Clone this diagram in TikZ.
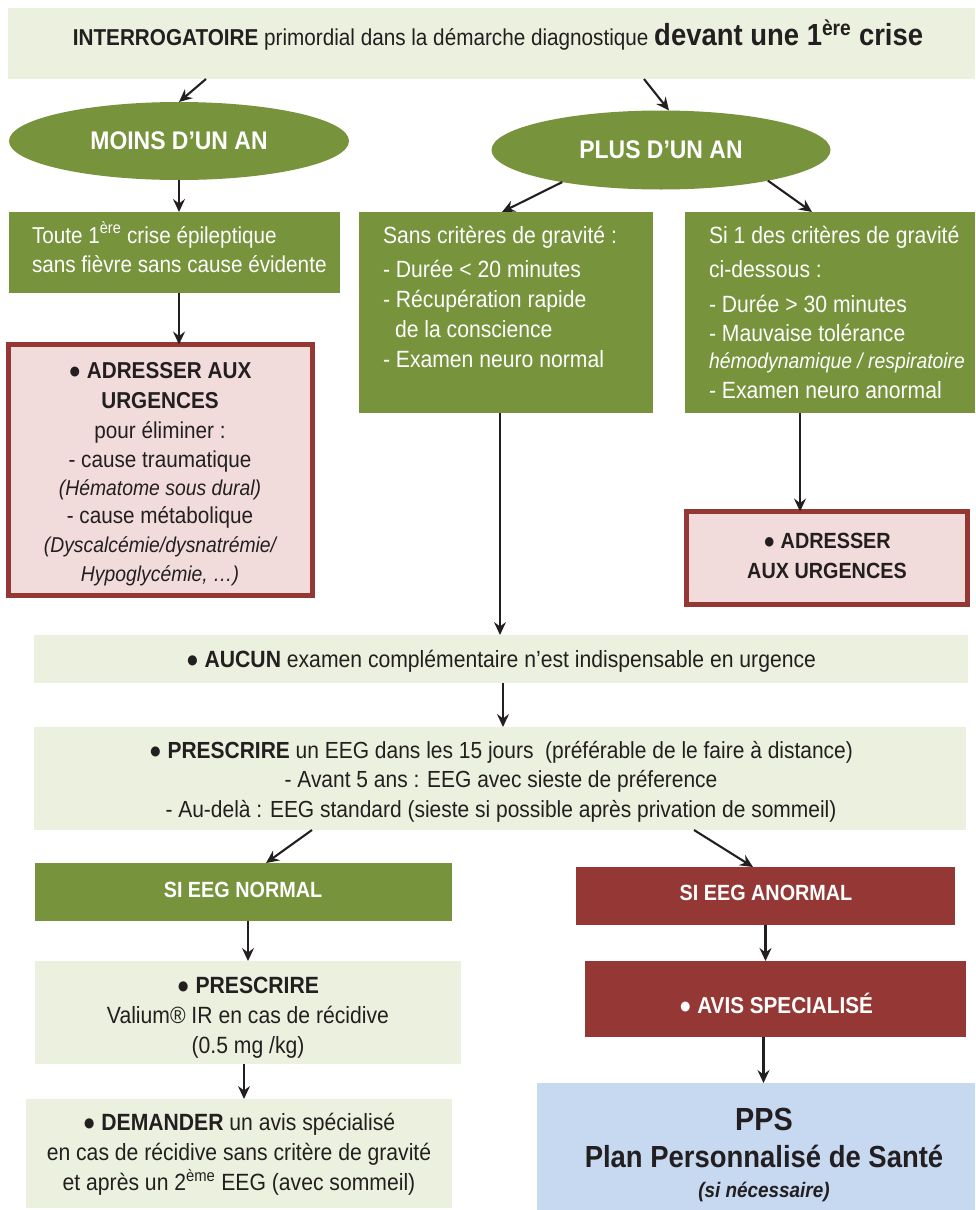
\documentclass[tikz,border=0pt]{standalone}
\usepackage{fontspec}
\setmainfont{Liberation Sans}[FakeStretch=0.9]
\usetikzlibrary{shapes.geometric,arrows.meta}
\definecolor{lgreen}{HTML}{EBF1DE}
\definecolor{dgreen}{HTML}{77933C}
\definecolor{dred}{HTML}{953735}
\definecolor{pinkbg}{HTML}{F2DCDB}
\definecolor{lblue}{HTML}{C6D9F1}
\definecolor{ink}{HTML}{231F20}
\newcommand{\mlines}[2]{\begin{tabular}[t]{@{}#1@{}}#2\end{tabular}}
\begin{document}
\begin{tikzpicture}[x=1pt,y=-1pt,
  every node/.style={inner sep=0pt, outer sep=0pt},
  arr/.style={draw=ink, line width=2.1pt, -{Stealth[length=13pt,width=12pt,inset=4.5pt]}},
  lgbox/.style={rectangle, fill=lgreen},
  dgbox/.style={rectangle, fill=dgreen},
  rdbox/.style={rectangle, fill=dred},
  pkbox/.style={rectangle, fill=pinkbg, draw=dred, line width=5pt},
  blbox/.style={rectangle, fill=lblue},
  oval/.style={ellipse, fill=dgreen, text=white, font=\bfseries\fontsize{25.5}{30}\selectfont},
  wtxt/.style={text=white},
  ktxt/.style={text=ink}]
\useasboundingbox (0,0) rectangle (975,1210);

% boxes
\node[lgbox, minimum width=967pt, minimum height=71pt] (top) at (491.5,43.5) {};
\node[oval, minimum width=340pt, minimum height=78pt] (e1) at (179,141) {MOINS D’UN AN};
\node[oval, minimum width=339pt, minimum height=79pt] (e2) at (661,150) {PLUS D’UN AN};
\node[dgbox, minimum width=331pt, minimum height=81pt] (g1) at (174.5,252.5) {};
\node[dgbox, minimum width=294pt, minimum height=201pt] (g2) at (506,312.5) {};
\node[dgbox, minimum width=290pt, minimum height=201pt] (g3) at (830,312.5) {};
\node[pkbox, minimum width=304pt, minimum height=251pt] (r1) at (160.5,470) {};
\node[pkbox, minimum width=281pt, minimum height=93pt] (r2) at (827,558) {};
\node[lgbox, minimum width=934pt, minimum height=48pt] (aucun) at (501,659) {};
\node[lgbox, minimum width=932pt, minimum height=103pt] (presc) at (500,778.5) {};
\node[dgbox, minimum width=417pt, minimum height=58pt] (norm) at (243.5,892) {};
\node[rdbox, minimum width=379pt, minimum height=58pt] (anorm) at (765.5,896) {};
\node[lgbox, minimum width=426pt, minimum height=103pt] (presc2) at (248,1012.5) {};
\node[rdbox, minimum width=381pt, minimum height=76pt] (avis) at (775.5,999) {};
\node[lgbox, minimum width=426pt, minimum height=109pt] (dem) at (239,1153.5) {};
\node[blbox, minimum width=438pt, minimum height=127pt] (pps) at (756,1146.5) {};

% texts
\node[ktxt, anchor=base] (t-top) at (498,45) {\fontsize{23}{26}\selectfont\textbf{INTERROGATOIRE} primordial dans la démarche diagnostique {\fontsize{30.5}{30}\selectfont\textbf{devant une 1\textsuperscript{ère} crise}}};

\node[wtxt, anchor=base west] (t-g1) at (32,243) {\fontsize{23}{29}\selectfont\mlines{l}{Toute 1\textsuperscript{ère} crise épileptique\\sans fièvre sans cause évidente}};

\node[wtxt, anchor=base west] (t-g2) at (383,243) {\fontsize{23.5}{30}\selectfont\mlines{l}{Sans critères de gravité :\\[4pt]- Durée < 20 minutes\\- Récupération rapide\\\hspace{12pt}de la conscience\\- Examen neuro normal}};

\node[wtxt, anchor=base west] (t-g3) at (709,243) {\fontsize{23.5}{30}\selectfont\mlines{l}{Si 1 des critères de gravité\\[4pt]ci-dessous :\\[5pt]- Durée > 30 minutes\\[-1pt]- Mauvaise tolérance\\[-3pt]{\itshape\fontsize{21.5}{30}\selectfont hémodynamique / respiratoire}\\- Examen neuro anormal}};

\node[ktxt, anchor=base] (t-r1) at (160,378) {\fontsize{23}{29}\selectfont\mlines{c}{\textbf{● ADRESSER AUX}\\[1pt]\textbf{URGENCES}\\[1pt]pour éliminer :\\- cause traumatique\\[-1pt]{\itshape\fontsize{21.5}{28}\selectfont (Hématome sous dural)}\\[-1pt]- cause métabolique\\{\itshape\fontsize{21.5}{26}\selectfont (Dyscalcémie/dysnatrémie/}\\{\itshape\fontsize{21.5}{26}\selectfont Hypoglycémie, …)}}};

\node[ktxt, anchor=base] (t-r2) at (827,548) {\fontsize{22}{30}\selectfont\bfseries\mlines{c}{● ADRESSER\\AUX URGENCES}};

\node[ktxt, anchor=base] (t-aucun) at (501,667) {\fontsize{23.5}{26}\selectfont ● \textbf{AUCUN} examen complémentaire n’est indispensable en urgence};

\node[ktxt, anchor=base] (t-presc) at (501,758) {\fontsize{23.3}{29.5}\selectfont\mlines{c}{● \textbf{PRESCRIRE} un EEG dans les 15 jours \ (préférable de le faire à distance)\\- Avant 5 ans : EEG avec sieste de préference\\- Au-delà : EEG standard (sieste si possible après privation de sommeil)}};

\node[wtxt, anchor=base] (t-norm) at (243,897) {\fontsize{22}{26}\selectfont\bfseries SI EEG NORMAL};
\node[wtxt, anchor=base] (t-anorm) at (766,900) {\fontsize{22}{26}\selectfont\bfseries SI EEG ANORMAL};

\node[ktxt, anchor=base] (t-presc2) at (248,993) {\fontsize{23.5}{30}\selectfont\mlines{c}{\textbf{● PRESCRIRE}\\Valium® IR en cas de récidive\\(0.5 mg /kg)}};

\node[wtxt, anchor=base] (t-avis) at (776,1013) {\fontsize{23}{26}\selectfont\bfseries ● AVIS SPECIALISÉ};

\node[ktxt, anchor=base] (t-dem) at (239,1130) {\fontsize{23.5}{30}\selectfont\mlines{c}{● \textbf{DEMANDER} un avis spécialisé\\en cas de récidive sans critère de gravité\\et après un 2\textsuperscript{ème} EEG (avec sommeil)}};

\node[ktxt, anchor=base] (t-pps1) at (764,1130) {\fontsize{32}{36}\selectfont\bfseries PPS};
\node[ktxt, anchor=base] (t-pps2) at (764,1167) {\fontsize{30.5}{36}\selectfont\bfseries Plan Personnalisé de Santé};
\node[ktxt, anchor=base] (t-pps3) at (764,1197) {\fontsize{21}{22}\selectfont\bfseries\itshape (si nécessaire)};

% connectors
\draw[arr] ([xshift=198pt]top.south west) -- (e1.north);
\draw[arr] ([xshift=636pt]top.south west) -- ([xshift=8pt]e2.north);
\draw[arr] (e1.south) -- (e1.south |- g1.north);
\draw[arr] (e2.198) -- ([xshift=143pt]g2.north west);
\draw[arr] (e2.344) -- ([xshift=127pt]g3.north west);
\draw[arr] (g1.south -| e1.south) -- (r1.north -| e1.south);
\draw[arr] ([xshift=-6pt]g2.south) -- ([xshift=-6pt]g2.south |- aucun.north);
\draw[arr] ([xshift=-30pt]g3.south) -- ([xshift=-30pt]g3.south |- r2.north);
\draw[arr] ([xshift=2pt]aucun.south) -- ([xshift=2pt]aucun.south |- presc.north);
\draw[arr] ([xshift=278pt]presc.south west) -- ([xshift=231pt]norm.north west);
\draw[arr] ([xshift=660pt]presc.south west) -- ([xshift=177pt]anorm.north west);
\draw[arr] (norm.south -| presc2.north) -- (presc2.north);
\draw[arr] (anorm.south) -- (anorm.south |- avis.north);
\draw[arr] ([xshift=-4pt]presc2.south) -- ([xshift=-4pt]presc2.south |- dem.north);
\draw[arr] ([xshift=-12pt]avis.south) -- ([xshift=-12pt]avis.south |- pps.north);
\end{tikzpicture}
\end{document}
